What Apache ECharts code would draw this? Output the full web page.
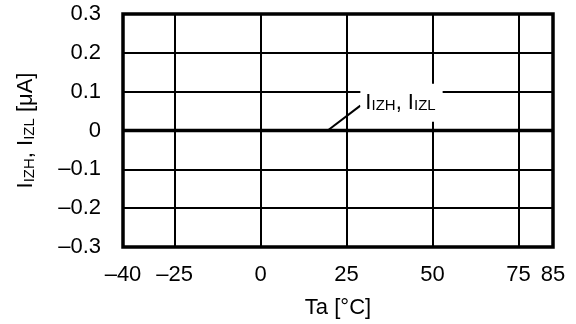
<!DOCTYPE html>
<html>
<head>
<meta charset="utf-8">
<script src="https://cdn.jsdelivr.net/npm/echarts@6/dist/echarts.min.js"></script>
<style>
html, body { margin: 0; padding: 0; background: #fff; }
#chart { width: 576px; height: 324px; }
</style>
</head>
<body>
<div id="chart"></div>
<script>
// temperature ticks and the flat current curve
var xTicks = [-40, -25, 0, 25, 50, 75, 85];
var temps = [-40, 85];
var current = [0, 0];
// leader line for the curve label: [x, y] start and end
var leaderFrom = [19.5, 0];
var leaderTo = [29.0, 0.064];

var font = 'Liberation Sans, Arial, sans-serif';
var rich = {
    a: { fontSize: 22, fontFamily: font, color: '#000' },
    b: { fontSize: 15, fontFamily: font, color: '#000', verticalAlign: 'bottom' }
};

function minus(v) {
    var s = Math.abs(v) < 1e-9 ? '0' : Math.abs(v).toFixed(Number.isInteger(v) ? 0 : 1);
    return v < -1e-9 ? '\u2013' + s : s;
}

var myChart = echarts.init(document.getElementById('chart'));
var option = {
    animation: false,
    grid: {
        left: 123, right: 23, top: 14, bottom: 76,
        show: true, borderColor: '#000', borderWidth: 3.5,
        backgroundColor: 'transparent'
    },
    xAxis: {
        type: 'value',
        min: -40,
        max: 85,
        name: 'Ta [\u00b0C]',
        nameLocation: 'middle',
        nameGap: 50,
        nameTextStyle: { fontSize: 22, fontFamily: font, color: '#000' },
        axisLine: { show: false },
        axisTick: { show: false, customValues: xTicks },
        axisLabel: {
            customValues: xTicks,
            fontSize: 22, fontFamily: font, color: '#000', margin: 17,
            formatter: minus
        },
        splitLine: { show: true, lineStyle: { color: '#000', width: 2 } }
    },
    yAxis: {
        type: 'value',
        min: -0.3,
        max: 0.3,
        interval: 0.1,
        name: '{a|I}{b|IZH}{a|, I}{b|IZL}{a| [\u03bcA]}',
        nameLocation: 'middle',
        nameGap: 86,
        nameTextStyle: { rich: rich },
        axisLine: { show: false },
        axisTick: { show: false },
        axisLabel: {
            fontSize: 22, fontFamily: font, color: '#000', margin: 22,
            formatter: minus
        },
        splitLine: { show: true, lineStyle: { color: '#000', width: 2 } }
    },
    series: [{
        type: 'line',
        data: temps.map(function (t, i) { return [t, current[i]]; }),
        symbol: 'none',
        lineStyle: { color: '#000', width: 3.5 },
        z: 3,
        markLine: {
            silent: true,
            symbol: 'none',
            label: { show: false },
            lineStyle: { color: '#000', width: 2, type: 'solid' },
            data: [[{ coord: leaderFrom }, { coord: leaderTo }]]
        },
        markPoint: {
            symbol: 'circle',
            symbolSize: 0,
            silent: true,
            data: [{ coord: leaderTo }],
            label: {
                show: true,
                position: 'right',
                distance: 0,
                offset: [0, -3],
                backgroundColor: '#fff',
                padding: [8, 7, 8, 5],
                formatter: '{a|I}{b|IZH}{a|, I}{b|IZL}',
                rich: rich
            }
        }
    }]
};
myChart.setOption(option);
</script>
</body>
</html>
